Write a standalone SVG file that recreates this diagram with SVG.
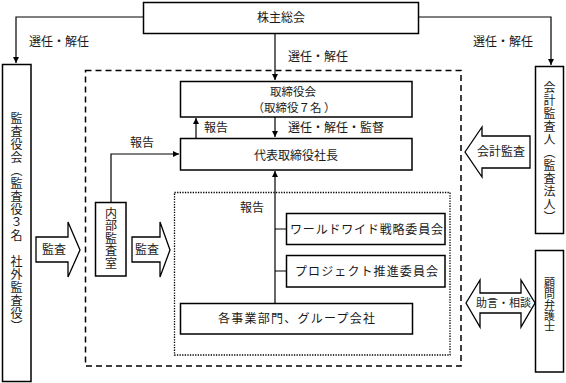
<svg xmlns="http://www.w3.org/2000/svg" width="566" height="383" viewBox="0 0 566 383">
<style>
  .box{fill:#fff;stroke:#000;stroke-width:1.5}
  .ln{fill:none;stroke:#000;stroke-width:1.2}
  .blk{fill:#fff;stroke:#000;stroke-width:1.3;stroke-linejoin:miter}
  text{font-family:"Noto Sans CJK JP","Noto Sans CJK SC",sans-serif;font-size:12px;fill:#1a1a1a}
  .c{text-anchor:middle}
  .v{writing-mode:vertical-rl;text-anchor:start;dominant-baseline:central}
</style>
<defs>
  <marker id="ah" viewBox="0 0 8 8" refX="8" refY="4" markerWidth="6" markerHeight="6" markerUnits="userSpaceOnUse" orient="auto">
    <path d="M0,0 L8,4 L0,8 Z" fill="#000"/>
  </marker>
</defs>
<rect width="566" height="383" fill="#fff"/>

<g id="frames">
  <rect x="85.5" y="70.5" width="375.5" height="295.5" fill="none" stroke="#000" stroke-width="1.5" stroke-dasharray="6,4"/>
  <rect x="174.5" y="192.5" width="275.5" height="162.5" fill="none" stroke="#000" stroke-width="1.3" stroke-dasharray="1.3,1.3"/>
</g>

<g id="connectors">
  <path class="ln" d="M143,17 H16 V63" marker-end="url(#ah)"/>
  <path class="ln" d="M418,17 H551 V65" marker-end="url(#ah)"/>
  <path class="ln" d="M275,33 V80" marker-end="url(#ah)"/>
  <path class="ln" d="M275,117 V137" marker-end="url(#ah)"/>
  <path class="ln" d="M196,138 V118" marker-end="url(#ah)"/>
  <path class="ln" d="M111,202 V154 H179" marker-end="url(#ah)"/>
  <path class="ln" d="M275,303 V171" marker-end="url(#ah)"/>
  <path class="ln" d="M275,229 H286 M275,271 H286"/>
  <text x="29" y="46">選任・解任</text>
  <text x="473" y="46">選任・解任</text>
  <text x="288" y="61">選任・解任</text>
  <text x="288" y="132">選任・解任・監督</text>
  <text x="204" y="132">報告</text>
  <text x="130" y="147">報告</text>
  <text x="240" y="212">報告</text>
</g>

<g id="kabunushi">
  <rect class="box" x="143.5" y="2.5" width="275" height="31"/>
  <text class="c" x="281" y="22">株主総会</text>
</g>

<g id="kansayakukai">
  <rect class="box" x="2.5" y="64.5" width="28.5" height="317"/>
  <text class="v" x="16.5" y="112" letter-spacing="1">監査役会（監査役３名　社外監査役）</text>
</g>

<g id="kaikei">
  <rect class="box" x="535.5" y="66.5" width="28" height="167"/>
  <text class="v" x="549.5" y="81" letter-spacing="1">会計監査人（監査法人）</text>
</g>

<g id="komon">
  <rect class="box" x="535.5" y="250.5" width="28" height="121.5"/>
  <text class="v" x="549.5" y="277" style="font-size:11px">顧問弁護士</text>
</g>

<g id="torishimariyakukai">
  <rect class="box" x="180.5" y="81.5" width="231.5" height="35.5"/>
  <text class="c" x="293" y="96" style="font-size:11.5px">取締役会</text>
  <text class="c" x="294" y="112" style="font-size:11.5px">（取締役７名 ）</text>
</g>

<g id="shacho">
  <rect class="box" x="180.5" y="138.5" width="231.5" height="31.5"/>
  <text class="c" x="296" y="160">代表取締役社長</text>
</g>

<g id="naibu">
  <rect class="box" x="95.5" y="202.5" width="30.5" height="73.5"/>
  <text class="v" x="111" y="207" letter-spacing="0.6">内部監査室</text>
</g>

<g id="worldwide">
  <rect class="box" x="286.5" y="213.5" width="158.5" height="31"/>
  <text x="290" y="234" textLength="153" lengthAdjust="spacing">ワールドワイド戦略委員会</text>
</g>

<g id="project">
  <rect class="box" x="286.5" y="255.5" width="158.5" height="31.5"/>
  <text x="295" y="276" textLength="143" lengthAdjust="spacing">プロジェクト推進委員会</text>
</g>

<g id="jigyobu">
  <rect class="box" x="180.5" y="303.5" width="232" height="30.5"/>
  <text x="218" y="323" textLength="157" lengthAdjust="spacing">各事業部門、グループ会社</text>
</g>

<g id="kansa1">
  <polygon class="blk" points="36,237 68,237 68,222 80,250 68,277 68,262 36,262"/>
  <text x="42" y="254">監査</text>
</g>

<g id="kansa2">
  <polygon class="blk" points="132,237 160,237 160,222 170,250 160,277 160,262 132,262"/>
  <text x="135" y="254">監査</text>
</g>

<g id="kaikeikansa">
  <polygon class="blk" points="465,152 482,127 482,136 530,136 530,168 482,168 482,177"/>
  <text x="477" y="156">会計監査</text>
</g>

<g id="jogen">
  <polygon class="blk" points="466,303 480,280 480,293 521,293 521,280 535,303 521,327 521,313 480,313 480,327"/>
  <text x="476" y="307" style="font-size:11px">助言・相談</text>
</g>
</svg>
